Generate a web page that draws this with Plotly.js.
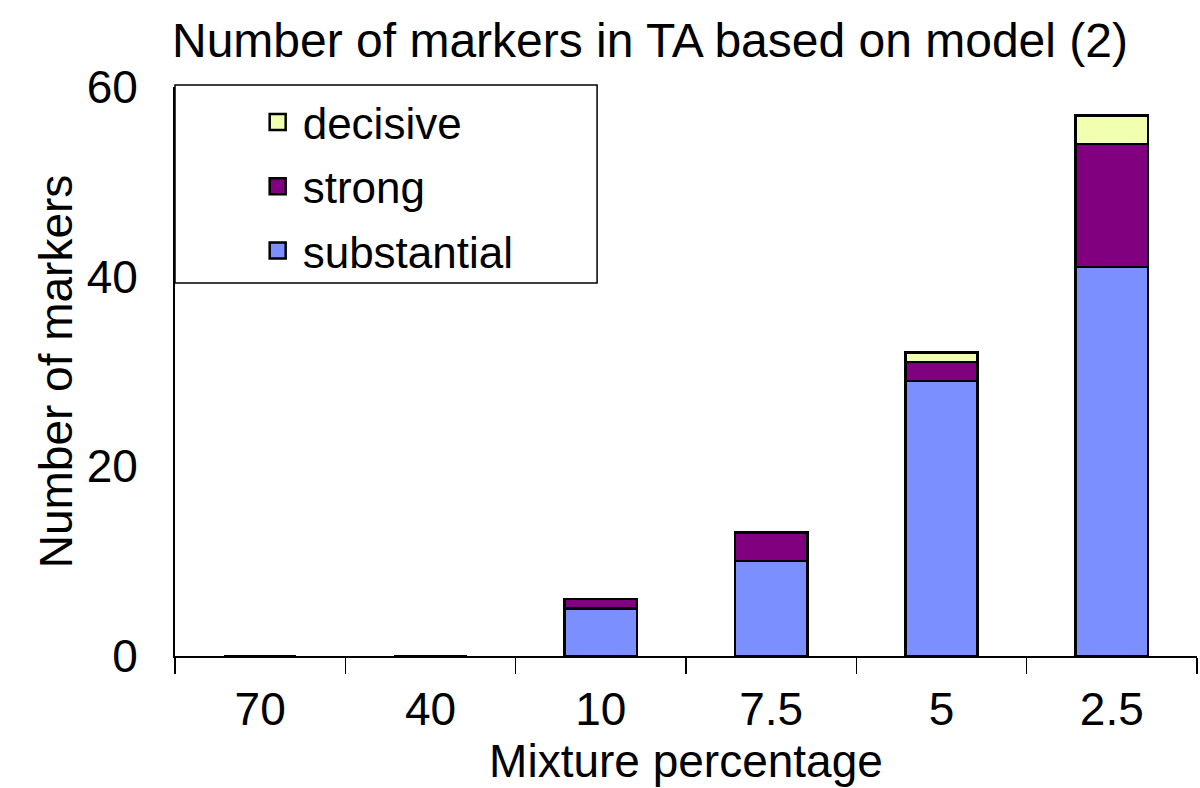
<!DOCTYPE html>
<html>
<head>
<meta charset="utf-8">
<script src="https://cdn.plot.ly/plotly-3.0.1.min.js"></script>
<style>html,body{margin:0;padding:0;background:#fff;}#chart{width:1200px;height:788px;}</style>
</head>
<body>
<div id="chart"></div>
<script>
var categories = ['70', '40', '10', '7.5', '5', '2.5'];
var substantial = [0, 0, 5, 10, 29, 41];
var strong = [0, 0, 1, 3, 2, 13];
var decisive = [0, 0, 0, 0, 1, 3];
var seriesNames = ['substantial', 'strong', 'decisive'];
var seriesColors = ['#7b8fff', '#800080', '#f0ffb0'];

var FONT = 'Liberation Sans, Arial, sans-serif';
var seriesValues = [substantial, strong, decisive];

var traces = [];
for (var i = 0; i < 3; i++) {
  traces.push({
    type: 'bar', x: categories, y: seriesValues[i], name: seriesNames[i],
    marker: {color: seriesColors[i], line: {color: '#000', width: 2.5}},
    showlegend: false, hoverinfo: 'x+y+name'
  });
}
for (var j = 2; j >= 0; j--) {
  traces.push({
    type: 'scatter', mode: 'markers', x: [null], y: [null], name: seriesNames[j],
    legendgroup: seriesNames[j],
    marker: {symbol: 'square', size: 28, color: seriesColors[j], line: {color: '#000', width: 2.5}},
    showlegend: true, hoverinfo: 'skip'
  });
}

var layout = {
  width: 1200, height: 788,
  margin: {l: 175, r: 3, t: 87, b: 132},
  paper_bgcolor: '#fff', plot_bgcolor: '#fff',
  font: {family: FONT, color: '#000', size: 44},
  barmode: 'stack',
  bargap: 0.576,
  title: {text: 'Number of markers in TA based on model (2)', font: {family: FONT, size: 48, color: '#000'},
          xref: 'container', x: 172/1200, xanchor: 'left', yref: 'container', y: 1 - 40/788, yanchor: 'middle'},
  xaxis: {
    type: 'category', showline: true, linecolor: '#000', linewidth: 2,
    ticks: 'outside', tickson: 'boundaries', ticklen: 16, tickwidth: 1.5, tickcolor: '#000',
    ticklabelstandoff: 12,
    tickfont: {family: FONT, size: 46, color: '#000'},
    showgrid: false, zeroline: false,
    title: {text: 'Mixture percentage', font: {family: FONT, size: 46, color: '#000'}, standoff: 8},
    fixedrange: true
  },
  yaxis: {
    range: [0, 60], tickvals: [0, 20, 40, 60], ticktext: ['0', '20', '40', '60'],
    showline: true, linecolor: '#000', linewidth: 2, ticks: '', ticklabelstandoff: 26,
    tickfont: {family: FONT, size: 46, color: '#000'},
    showgrid: false, zeroline: false,
    title: {text: 'Number of markers', font: {family: FONT, size: 46, color: '#000'}, standoff: 0},
    fixedrange: true
  },
  legend: {
    x: 0.076, y: 1.0, xanchor: 'left', yanchor: 'top',
    bgcolor: 'rgba(0,0,0,0)', borderwidth: 0,
    font: {family: FONT, size: 44, color: '#000'},
    traceorder: 'grouped', tracegroupgap: 4, itemwidth: 40
  },
  shapes: [{
    type: 'rect', xref: 'paper', yref: 'paper', x0: 0, x1: 0.413, y0: 0.6555, y1: 1.0035,
    line: {color: '#000', width: 1.5}, fillcolor: 'rgba(0,0,0,0)', layer: 'below'
  }]
};

Plotly.newPlot('chart', traces, layout, {displayModeBar: false, staticPlot: true});
</script>
</body>
</html>
